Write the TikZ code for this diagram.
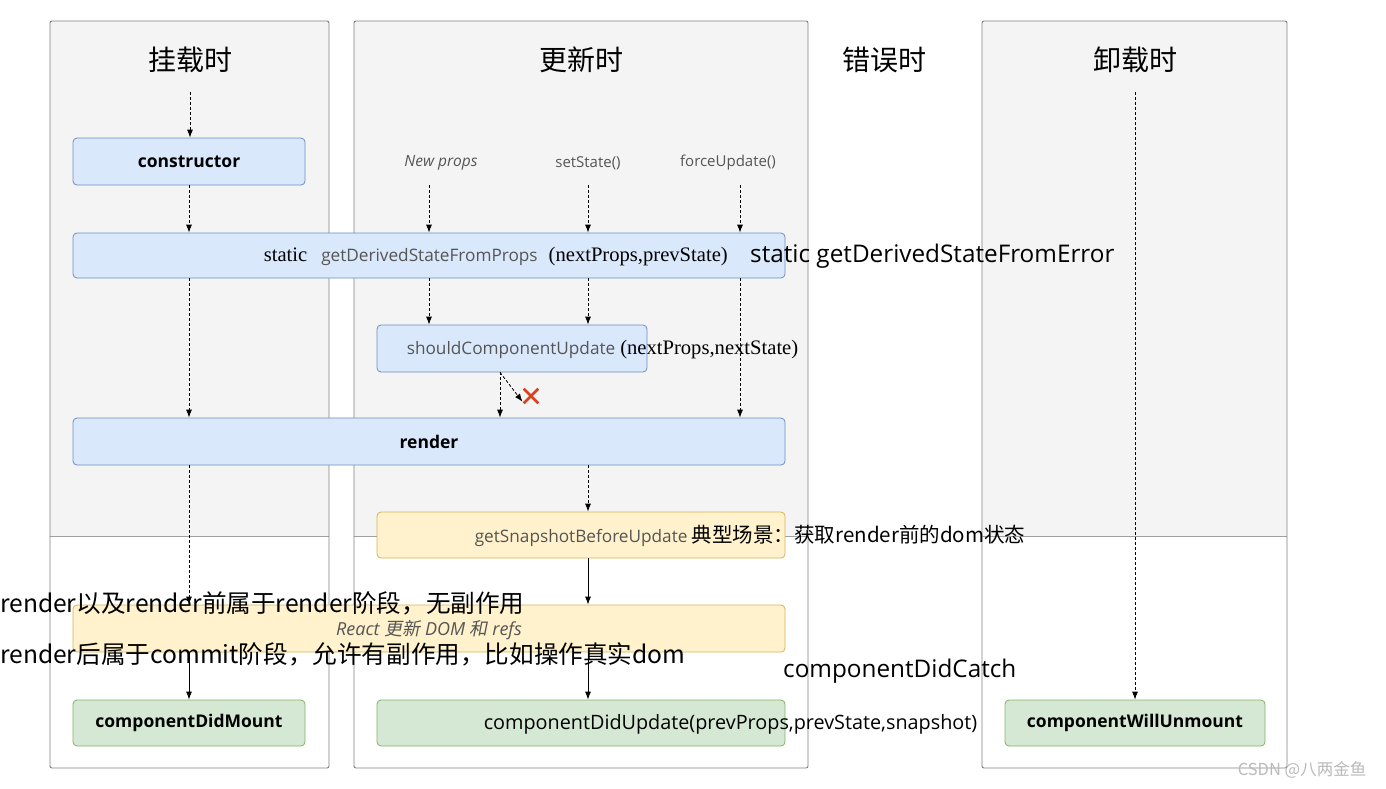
\documentclass[tikz,border=0pt]{standalone}
\usepackage{fontspec}
\setmainfont{Open Sans}
\newfontfamily\cjk{Noto Sans CJK SC}
\newfontfamily\cjkit{Noto Sans CJK SC}[FakeSlant=0.2]
\newfontfamily\tnr{Liberation Serif}
\usetikzlibrary{calc,arrows.meta,shapes.misc}

\definecolor{bluefill}{HTML}{DAE8FC}
\definecolor{blueline}{HTML}{6C8EBF}
\definecolor{yellowfill}{HTML}{FFF2CC}
\definecolor{yellowline}{HTML}{D6B656}
\definecolor{greenfill}{HTML}{D5E8D4}
\definecolor{greenline}{HTML}{82B366}
\definecolor{panelfill}{HTML}{F4F4F4}
\definecolor{panelline}{HTML}{808080}
\definecolor{sepline}{HTML}{A0A0A0}
\definecolor{uigray}{HTML}{555555}
\definecolor{crossred}{HTML}{D9411E}

\begin{document}
\begin{tikzpicture}[x=1pt,y=-1pt,>={Latex[length=8pt,width=6pt]},
  bluebox/.style={draw=blueline,fill=bluefill,rectangle,rounded corners=4pt,line width=0.8pt},
  yellowbox/.style={bluebox,draw=yellowline,fill=yellowfill},
  greenbox/.style={bluebox,draw=greenline,fill=greenfill},
  boxtext/.style={font=\fontsize{17.5}{20}\selectfont\bfseries},
  uitext/.style={inner sep=0pt,anchor=west,font=\fontsize{17.2}{20}\selectfont},
  bigtext/.style={inner sep=0pt,anchor=west,font=\cjk\fontsize{24.6}{28}\selectfont},
  smalllabel/.style={text=uigray,font=\fontsize{15}{18}\selectfont},
  title/.style={font=\cjk\fontsize{28}{32}\selectfont},
  dasharr/.style={->,dash pattern=on 3pt off 2pt,line width=0.8pt},
  solidarr/.style={->,line width=0.8pt}]
\useasboundingbox (0,0) rectangle (1386,788);

\foreach \l/\r in {50/329,354/808,982/1287}{
  \fill[panelfill] (\l,21) rectangle (\r,536);
  \draw[sepline,line width=0.8pt] (\l,536) -- (\r,536);
  \draw[panelline,line width=0.9pt,rounded corners=2pt] (\l,21) rectangle (\r,768);
}

\node[title] (mounttitle) at (190,60) {挂载时};
\node[title] (updatetitle) at (581,60) {更新时};
\node[title] (errortitle) at (884,60) {错误时};
\node[title] (unmounttitle) at (1135,60) {卸载时};

\node[bluebox,boxtext,minimum width=232pt,minimum height=47pt] (constructor) at (189,161.5) {constructor};
\node[bluebox,minimum width=712pt,minimum height=45pt] (gdsfp) at (429,255.5) {};
\node[bluebox,minimum width=270pt,minimum height=47pt] (scu) at (512,348.5) {};
\node[bluebox,boxtext,minimum width=712pt,minimum height=47pt] (render) at (429,441.5) {render};
\node[yellowbox,minimum width=408pt,minimum height=46pt] (snapshot) at (581,535) {};
\node[yellowbox,minimum width=712pt,minimum height=47pt] (domupd) at (429,628.5) {};
\node[greenbox,boxtext,minimum width=232pt,minimum height=46pt] (didmount) at (189,723) {componentDidMount};
\node[greenbox,minimum width=408pt,minimum height=46pt] (didupdate) at (581,723) {};
\node[greenbox,boxtext,minimum width=260pt,minimum height=46pt] (willunmount) at (1135,723) {componentWillUnmount};

\node[uitext] (gdsfptext) at ($(gdsfp.west)+(191,1)$) {{\tnr\fontsize{20.6}{24}\selectfont static}\hspace{14pt}{\color{uigray}getDerivedStateFromProps}\hspace{11pt}{\tnr\fontsize{20.6}{24}\selectfont (nextProps,prevState)}};
\node[uitext] (scutext) at ($(scu.west)+(30,1.5)$) {{\color{uigray}shouldComponentUpdate}\hspace{5pt}{\tnr\fontsize{20.6}{24}\selectfont (nextProps,nextState)}};
\node[uitext] (snapshottext) at ($(snapshot.west)+(98,1)$) {{\color{uigray}getSnapshotBeforeUpdate} {\cjk\fontsize{20.5}{24}\selectfont 典型场景：获取render前的dom状态}};
\node[text=uigray,font=\fontsize{18}{21}\selectfont\itshape] (domupdtext) at ($(domupd.center)+(0,1.5)$) {React {\cjkit 更新} DOM {\cjkit 和} refs};
\node[uitext,font=\fontsize{19.8}{23}\selectfont] (didupdatetext) at ($(didupdate.west)+(107,1)$) {componentDidUpdate(prevProps,prevState,snapshot)};

\node[smalllabel,font=\fontsize{15.5}{18}\selectfont\itshape] (newprops) at (441,163) {New props};
\node[smalllabel] (setstate) at (588,163) {setState()};
\node[smalllabel] (forceupdate) at (728,163) {forceUpdate()};

\node[uitext,font=\fontsize{24.3}{28}\selectfont] (gdsfetext) at (750,256.5) {static getDerivedStateFromError};
\node[uitext,font=\fontsize{24.3}{28}\selectfont] (catchtext) at (783,671.5) {componentDidCatch};

\node[cross out,draw=crossred,line width=2.6pt,minimum size=12pt,inner sep=0pt] (nox) at (531,396) {};

\coordinate (mtop) at (190,92);
\coordinate (utop) at (1135,92);
\coordinate (np) at (429,185);
\coordinate (ss) at (588,185);
\coordinate (fu) at (740,185);
\coordinate (scuout) at ($(scu.south)+(-12,0)$);

\draw[dasharr] (mtop) -- (mtop |- constructor.north);
\draw[dasharr] (constructor.south) -- (constructor.south |- gdsfp.north);
\draw[dasharr] (constructor.south |- gdsfp.south) -- (constructor.south |- render.north);
\draw[dasharr] (constructor.south |- render.south) -- (constructor.south |- domupd.north);
\draw[solidarr] (constructor.south |- domupd.south) -- (didmount.north);

\draw[dasharr] (np) -- (np |- gdsfp.north);
\draw[dasharr] (ss) -- (ss |- gdsfp.north);
\draw[dasharr] (fu) -- (fu |- gdsfp.north);
\draw[dasharr] (np |- gdsfp.south) -- (np |- scu.north);
\draw[dasharr] (ss |- gdsfp.south) -- (ss |- scu.north);
\draw[dasharr] (fu |- gdsfp.south) -- (fu |- render.north);
\draw[dasharr] (scuout) -- (scuout |- render.north);
\draw[dasharr,shorten >=2pt] (scuout) -- (nox.south west);
\draw[dasharr] (ss |- render.south) -- (ss |- snapshot.north);
\draw[solidarr] (ss |- snapshot.south) -- (ss |- domupd.north);
\draw[solidarr] (ss |- domupd.south) -- (ss |- didupdate.north);

\draw[dasharr] (utop) -- (willunmount.north);

\node[bigtext] (renderphase) at (0,603) {render以及render前属于render阶段，无副作用};
\node[bigtext] (commitphase) at (0,654) {render后属于commit阶段，允许有副作用，比如操作真实dom};

\node[font=\cjk\fontsize{16.5}{19}\selectfont,text=gray!55] (mark) at (1302,770) {CSDN @八两金鱼};

\end{tikzpicture}
\end{document}
